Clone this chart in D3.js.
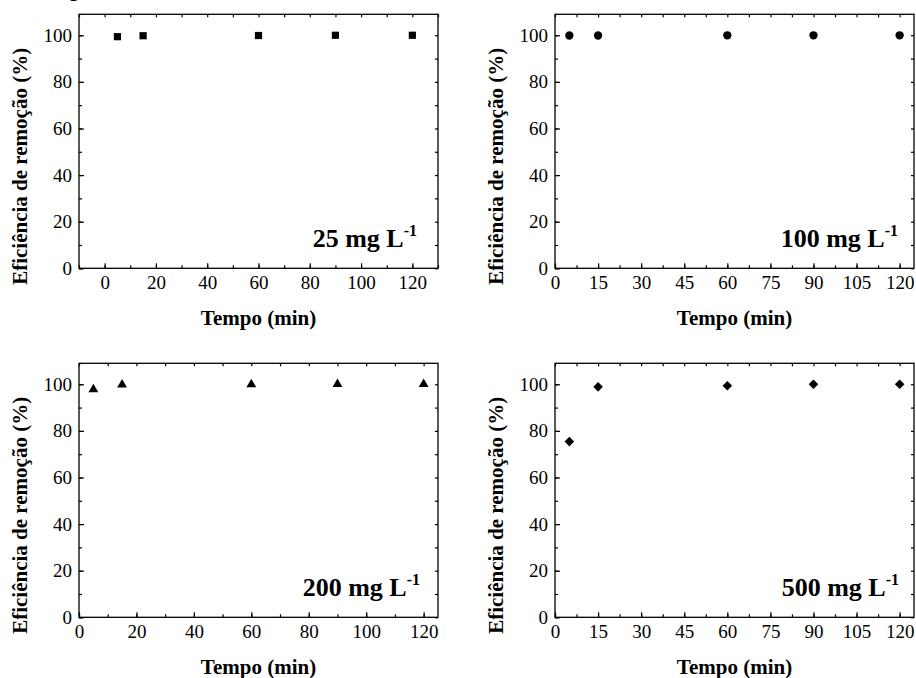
<!DOCTYPE html>
<html>
<head>
<meta charset="utf-8">
<script src="https://cdn.jsdelivr.net/npm/d3@7"></script>
<style>
  html, body { margin: 0; padding: 0; background: #fff; }
  svg { display: block; }
  text { font-family: "Liberation Serif", "Times New Roman", serif; fill: #000; }
</style>
</head>
<body>
<svg id="chart" width="916" height="678"></svg>
<script>
// Removal efficiency (%) over contact time (min) for four initial concentrations
const times = [5, 15, 60, 90, 120];
const eff25 = [99.4, 99.8, 99.9, 100, 100];
const eff100 = [99.9, 99.9, 100, 100, 100];
const eff200 = [97.8, 99.8, 99.9, 100, 100];
const eff500 = [75.4, 98.9, 99.4, 100, 100];
const concLabels = ["25", "100", "200", "500"];
const yTicks = [0, 20, 40, 60, 80, 100];
const xTicks20 = [0, 20, 40, 60, 80, 100, 120];
const xTicks15 = [0, 15, 30, 45, 60, 75, 90, 105, 120];
const xTitle = "Tempo (min)";
const yTitle = "Eficiência de remoção (%)";

// Panel geometry and per-panel axis setup
const panels = [
  { values: eff25,  conc: concLabels[0], symbol: "square",   xDomain: [-10, 130], ticks: xTicks20, minorStep: 10,  left: 79,  top: 14.3,  labelRight: 417 },
  { values: eff100, conc: concLabels[1], symbol: "circle",   xDomain: [0, 125],   ticks: xTicks15, minorStep: 7.5, left: 555, top: 14.3,  labelRight: 898 },
  { values: eff200, conc: concLabels[2], symbol: "triangle", xDomain: [0, 125],   ticks: xTicks20, minorStep: 10,  left: 79,  top: 363.3, labelRight: 420 },
  { values: eff500, conc: concLabels[3], symbol: "diamond",  xDomain: [0, 125],   ticks: xTicks15, minorStep: 7.5, left: 555, top: 363.3, labelRight: 899 }
];
const W = 359, H = 254;

const svg = d3.select("#chart");

// fragment of a heading above the figure, clipped at the top edge
svg.append("text").attr("x", 69).attr("y", -4).attr("font-size", 20).attr("font-weight", "bold").text("g");

const symbolGen = {
  square:   d3.symbol(d3.symbolSquare, 52),
  circle:   d3.symbol(d3.symbolCircle, 54),
  triangle: d3.symbol(d3.symbolTriangle, 42),
  diamond:  d3.symbol(d3.symbolSquare, 46)
};

function range(a, b, step) {
  const out = [];
  for (let v = a; v <= b + 1e-9; v += step) out.push(+v.toFixed(4));
  return out;
}

panels.forEach(p => {
  const g = svg.append("g").attr("transform", `translate(${p.left},${p.top})`);
  const x = d3.scaleLinear().domain(p.xDomain).range([0, W]);
  const y = d3.scaleLinear().domain([0, 109]).range([H, 0]);

  const minorX = range(Math.ceil(p.xDomain[0] / p.minorStep) * p.minorStep, p.xDomain[1], p.minorStep);
  const minorY = range(0, 109, 10);

  const style = sel => {
    sel.select(".domain").remove();
    sel.selectAll("line").attr("stroke", "#000").attr("stroke-width", 1.2);
    sel.selectAll("text").attr("font-size", 19).attr("fill", "#000").style("font-family", "Liberation Serif, serif");
  };

  // bottom axis: minor then major ticks, inward
  g.append("g").attr("transform", `translate(0,${H})`)
    .call(d3.axisBottom(x).tickValues(minorX).tickSize(-3).tickFormat(""))
    .call(style);
  g.append("g").attr("transform", `translate(0,${H})`)
    .call(d3.axisBottom(x).tickValues(p.ticks).tickSize(-5).tickPadding(7).tickFormat(d3.format("d")))
    .call(style);

  // left axis
  g.append("g")
    .call(d3.axisLeft(y).tickValues(minorY).tickSize(-3).tickFormat(""))
    .call(style);
  g.append("g")
    .call(d3.axisLeft(y).tickValues(yTicks).tickSize(-5).tickPadding(7).tickFormat(d3.format("d")))
    .call(style);

  // mirrored top and right ticks
  g.append("g")
    .call(d3.axisTop(x).tickValues(minorX).tickSize(-3).tickFormat(""))
    .call(style);
  g.append("g").attr("transform", `translate(${W},0)`)
    .call(d3.axisRight(y).tickValues(minorY).tickSize(-3).tickFormat(""))
    .call(style);

  // frame
  g.append("rect").attr("width", W).attr("height", H)
    .attr("fill", "none").attr("stroke", "#000").attr("stroke-width", 1.3);

  // markers
  g.selectAll("path.pt").data(times.map((t, i) => [t, p.values[i]]))
    .join("path").attr("class", "pt")
    .attr("d", symbolGen[p.symbol])
    .attr("transform", d => `translate(${x(d[0])},${y(d[1])})` + (p.symbol === "diamond" ? " rotate(45)" : ""))
    .attr("fill", "#000");

  // concentration label
  const lab = g.append("text")
    .attr("x", p.labelRight - p.left).attr("y", H - 21)
    .attr("text-anchor", "end").attr("font-size", 26).attr("font-weight", "bold");
  lab.append("tspan").text(`${p.conc} mg L`);
  lab.append("tspan").attr("font-size", 16).attr("dy", -11).text("-1");

  // axis titles
  g.append("text")
    .attr("x", W / 2).attr("y", H + 57)
    .attr("text-anchor", "middle").attr("font-size", 21).attr("font-weight", "bold")
    .text(xTitle);
  g.append("text")
    .attr("transform", `translate(${-52},${H / 2 + 25}) rotate(-90)`)
    .attr("text-anchor", "middle").attr("font-size", 21).attr("font-weight", "bold")
    .text(yTitle);
});
</script>
</body>
</html>
